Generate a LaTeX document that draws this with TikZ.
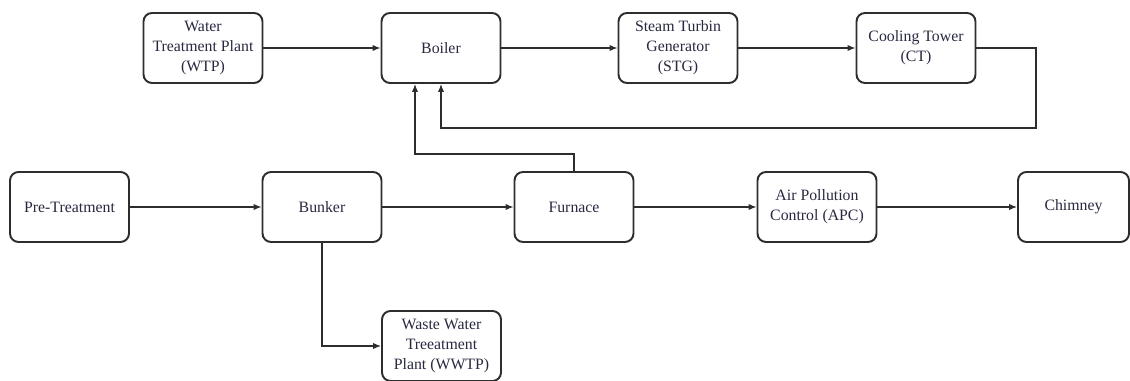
\documentclass[tikz,border=0pt]{standalone}
\usepackage{fontspec}
\setmainfont{Liberation Serif}
\newfontfamily\boxfont{Liberation Serif}
\usetikzlibrary{arrows.meta}
\definecolor{linec}{RGB}{45,45,45}
\definecolor{textc}{RGB}{40,40,65}

\begin{document}
\begin{tikzpicture}[->,>={Latex[length=4.5pt,width=3.6pt]},x=0.02cm,y=-0.02cm,
    line width=0.75pt,draw=linec,
    box/.style={draw=linec,line width=1.1pt,rounded corners=0.17cm,
        minimum width=2.38cm,minimum height=1.4cm,align=center,
        text=textc,font=\boxfont\fontsize{9}{11.4}\selectfont,inner sep=1pt}]

\useasboundingbox (0,0) rectangle (1130,381);

\node [box] (wtp) at (203,48) {Water\\Treatment Plant\\(WTP)};
\node [box] (boiler) at (441,48) {Boiler};
\node [box] (stg) at (678,48) {Steam Turbin\\Generator\\(STG)};
\node [box] (ct) at (916,48) {Cooling Tower\\(CT)};

\node [box] (pre) at (69.5,207) {Pre-Treatment};
\node [box] (bunker) at (322,207) {Bunker};
\node [box] (furnace) at (574,207) {Furnace};
\node [box] (apc) at (817,207) {Air Pollution\\Control (APC)};
\node [box,minimum width=2.22cm] (chimney) at (1073.5,207) {Chimney};

\node [box] (wwtp) at (441.5,346) {Waste Water\\Treeatment\\Plant (WWTP)};

\coordinate (fb) at (1036,128);
\coordinate (fk) at (415,154);

\draw (wtp) -- (boiler);
\draw (boiler) -- (stg);
\draw (stg) -- (ct);
\draw (pre) -- (bunker);
\draw (bunker) -- (furnace);
\draw (furnace) -- (apc);
\draw (apc) -- (chimney);

\draw (ct.east) -| (fb) -| (boiler.south);
\draw (furnace.north) |- (fk) -- (fk |- boiler.south);
\draw (bunker.south) |- (wwtp.west);

\end{tikzpicture}
\end{document}
